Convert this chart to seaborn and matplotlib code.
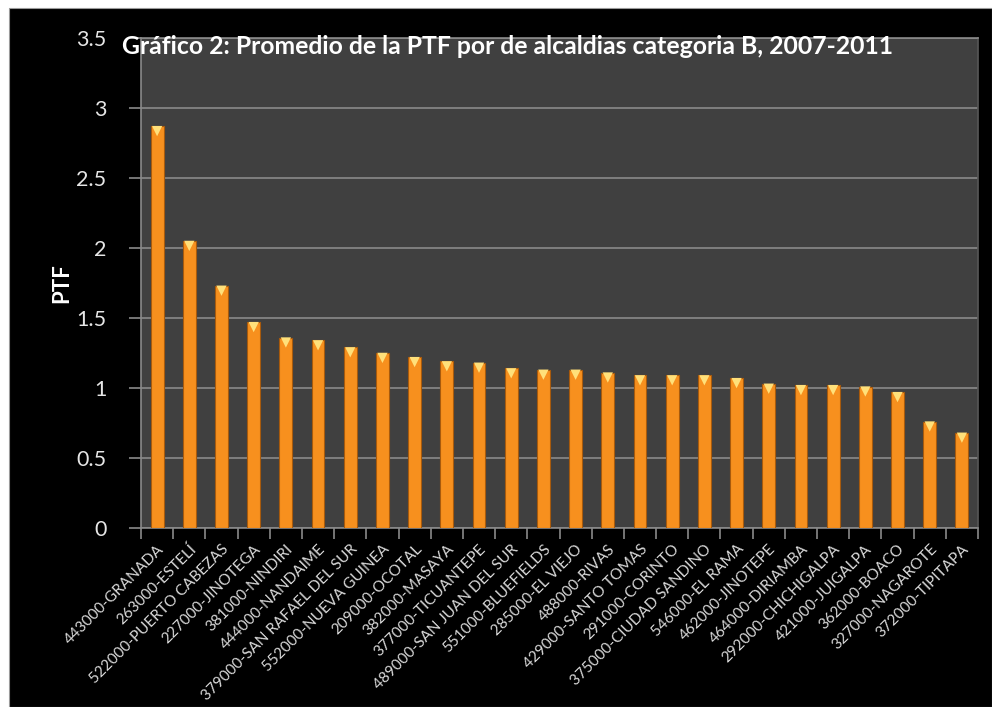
import matplotlib
matplotlib.use("Agg")
import matplotlib.pyplot as plt
from matplotlib.patches import Rectangle
import seaborn as sns
import numpy as np
import pandas as pd

# Municipality codes and names (category B)
municipios = [
    "443000-GRANADA", "263000-ESTELÍ", "522000-PUERTO CABEZAS", "227000-JINOTEGA",
    "381000-NINDIRI", "444000-NANDAIME", "379000-SAN RAFAEL DEL SUR",
    "552000-NUEVA GUINEA", "209000-OCOTAL", "382000-MASAYA", "377000-TICUANTEPE",
    "489000-SAN JUAN DEL SUR", "551000-BLUEFIELDS", "285000-EL VIEJO",
    "488000-RIVAS", "429000-SANTO TOMAS", "291000-CORINTO",
    "375000-CIUDAD SANDINO", "546000-EL RAMA", "462000-JINOTEPE",
    "464000-DIRIAMBA", "292000-CHICHIGALPA", "421000-JUIGALPA",
    "362000-BOACO", "327000-NAGAROTE", "372000-TIPITAPA",
]
# Average PTF 2007-2011
ptf = [
    2.87, 2.05, 1.73, 1.47, 1.36, 1.34, 1.29, 1.25, 1.22, 1.19, 1.18,
    1.14, 1.13, 1.13, 1.11, 1.09, 1.09, 1.09, 1.07, 1.03, 1.02, 1.02,
    1.01, 0.97, 0.76, 0.68,
]
y_ticks = [0, 0.5, 1, 1.5, 2, 2.5, 3, 3.5]
y_tick_labels = ["0", "0.5", "1", "1.5", "2", "2.5", "3", "3.5"]

df = pd.DataFrame({"municipio": municipios, "ptf": ptf})

sns.set_theme(style="dark")
plt.rcParams["font.family"] = ["Lato", "DejaVu Sans"]

W, H = 992, 707
fig = plt.figure(figsize=(W / 100, H / 100), dpi=100, facecolor="white")
# black card behind the chart
fig.patches.append(Rectangle((9 / W, 0), 1 - 9 / W, 1 - 8 / H, transform=fig.transFigure,
                             facecolor="black", edgecolor="#9a9a9a", linewidth=0.8,
                             zorder=-10))

ax = fig.add_axes([141 / W, 179 / H, (978 - 141) / W, (528 - 38) / H])
ax.set_zorder(1)
ax.set_facecolor("#404040")

bar_color = "#F7901E"
sns.barplot(data=df, x="municipio", y="ptf", order=municipios, color=bar_color,
            saturation=1, width=0.4, edgecolor="#A85A0C", linewidth=0.8, ax=ax,
            zorder=3)

# light bevel marker on the top of each bar
xs = np.arange(len(municipios))
ax.scatter(xs, np.array(ptf) - 0.035, marker="v", s=55, color="#FFE07A",
           edgecolor="none", zorder=4)

ax.set_ylim(0, 3.5)
ax.set_xlim(-0.5, len(municipios) - 0.5)
ax.set_yticks(y_ticks)
ax.set_yticklabels(y_tick_labels)
ax.yaxis.grid(True, color="#8a8a8a", linewidth=1.2, zorder=1)
ax.xaxis.grid(False)
ax.set_axisbelow(True)

ax.tick_params(axis="y", which="major", direction="out", length=9, width=1.2,
               color="#8a8a8a", labelcolor="#e6e6e6", labelsize=15.5, pad=16,
               left=True)
ax.set_xticks(xs)
ax.set_xticklabels(municipios, rotation=45, ha="right", rotation_mode="anchor",
                   fontsize=11, color="#d9d9d9")
ax.tick_params(axis="x", which="major", length=0, pad=10)
ax.set_xticks(np.arange(-0.5, len(municipios)), minor=True)
ax.tick_params(axis="x", which="minor", direction="out", length=8, width=1.2,
               color="#8a8a8a", bottom=True)

for side in ["left", "bottom", "top"]:
    ax.spines[side].set_visible(True)
    ax.spines[side].set_color("#8a8a8a")
    ax.spines[side].set_linewidth(1.2)
ax.spines["right"].set_visible(True)
ax.spines["right"].set_color("#555555")

ax.set_xlabel("")
ax.set_ylabel("PTF", color="white", fontsize=16, fontweight="bold", labelpad=3)

fig.text(122 / W, 1 - 46 / H,
         "Gráfico 2: Promedio de la PTF por de alcaldias categoria B, 2007-2011",
         ha="left", va="center", color="white", fontsize=17.8, fontweight="bold",
         zorder=5)

fig.savefig("out.png", dpi=100, facecolor=fig.get_facecolor())
